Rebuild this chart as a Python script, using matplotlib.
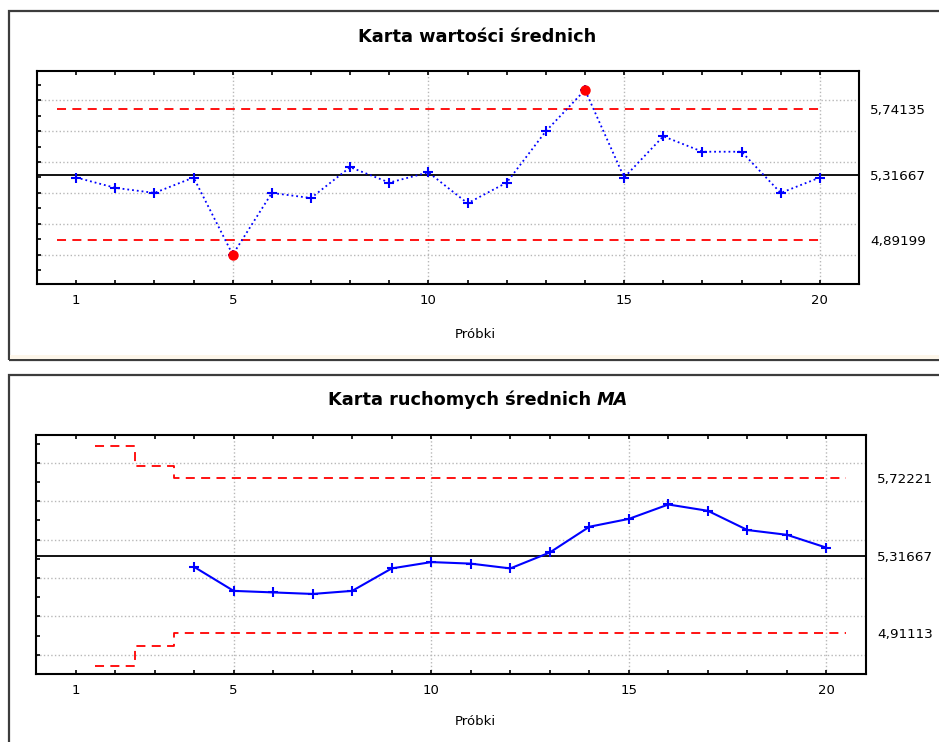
"""
Karty kontrolne: wartości średnich i ruchomych średnich MA.
"""

import numpy as np
import matplotlib.pyplot as plt
from matplotlib.patches import Rectangle
from matplotlib.ticker import MultipleLocator

# ── Data ──────────────────────────────────────────────────────────────────────
samples = np.arange(1, 21)
means = [5.300, 5.233, 5.200, 5.300, 4.800, 5.200, 5.167, 5.367, 5.267, 5.333,
         5.133, 5.267, 5.600, 5.867, 5.300, 5.567, 5.467, 5.467, 5.200, 5.300]
cl = 5.31667
ucl, lcl = 5.74135, 4.89199
top_labels = ["5,74135", "5,31667", "4,89199"]

ma_samples = np.arange(4, 21)
ma_values = [5.258, 5.133, 5.125, 5.117, 5.133, 5.250, 5.283, 5.275, 5.250,
             5.333, 5.467, 5.508, 5.583, 5.550, 5.450, 5.425, 5.358]
ma_lim_samples = np.arange(2, 21)
ma_ucl = [5.890, 5.785] + [5.72221] * 17
ma_lcl = [4.743, 4.848] + [4.91113] * 17
bot_labels = ["5,72221", "5,31667", "4,91113"]

# ── Style ─────────────────────────────────────────────────────────────────────
W, H = 939, 742
BLUE = "#0000ff"
RED = "#ff0000"
GRID = "#b8b8b8"
plt.rcParams["font.family"] = ["DejaVu Sans"]

fig = plt.figure(figsize=(W / 100, H / 100), dpi=100)
fig.patch.set_facecolor("white")


def px_axes(l, t, r, b):
    return fig.add_axes([l / W, 1 - b / H, (r - l) / W, (b - t) / H])


def frame(l, t, r, b):
    fig.patches.append(Rectangle((l / W, 1 - b / H), (r - l) / W, (b - t) / H,
                                 transform=fig.transFigure, fill=False,
                                 edgecolor="#3c3c3c", linewidth=1.6, zorder=0))


def style_axes(ax, ylim, lim_vals, lim_labels, xlab_pos):
    ax.set_xlim(0, 21)
    ax.set_ylim(*ylim)
    ax.set_xticks(samples)
    ax.set_xticklabels([str(s) if s in (1, 5, 10, 15, 20) else "" for s in samples])
    ax.yaxis.set_major_locator(MultipleLocator(0.2))
    ax.yaxis.set_minor_locator(MultipleLocator(0.1))
    ax.tick_params(axis="x", direction="in", top=True, length=3, width=1.2,
                   labelsize=9.5, pad=7)
    ax.tick_params(axis="y", which="both", direction="in", left=True, right=True,
                   length=3, width=1.2, labelleft=False)
    ax.grid(axis="y", which="major", color=GRID, linestyle=":", linewidth=1)
    for xv in (5, 10, 15, 20):
        ax.axvline(xv, color=GRID, linestyle=":", linewidth=1, zorder=0)
    for sp in ax.spines.values():
        sp.set_linewidth(1.5)
    ax.set_xlabel("Próbki", fontsize=9.5)
    ax.xaxis.set_label_coords(*xlab_pos)

    twin = ax.twinx()
    twin.set_ylim(*ylim)
    twin.set_yticks(lim_vals)
    twin.set_yticklabels(lim_labels)
    twin.tick_params(axis="y", length=0, labelsize=9.7, pad=8)
    for sp in twin.spines.values():
        sp.set_visible(False)


# ── Top chart ─────────────────────────────────────────────────────────────────
frame(9, 11, 960, 360)
fig.patches.append(Rectangle((10 / W, 1 - 359 / H), 950 / W, 4 / H,
                             transform=fig.transFigure, color="#fdf6ea",
                             linewidth=0, zorder=0))
ax1 = px_axes(37, 71, 859, 284)
style_axes(ax1, (4.61, 5.99), [ucl, cl, lcl], top_labels, (0.533, -0.205))

ax1.axhline(cl, color="black", linewidth=1.3)
ax1.hlines([ucl, lcl], 0.5, 20, colors=RED, linestyles=(0, (5, 3.5)), linewidth=1.3)
ax1.plot(samples, means, color=BLUE, linestyle=":", linewidth=1.3,
         marker="+", markersize=6.5, markeredgewidth=1.5)
means_arr = np.array(means)
out = (means_arr > ucl) | (means_arr < lcl)
ax1.plot(samples[out], means_arr[out], "o", color=RED, markersize=6.5, zorder=5)

fig.text(477 / W, 1 - 37 / H, "Karta wartości średnich", ha="center", va="center",
         fontsize=12.8, fontweight="bold")

# ── Bottom chart ──────────────────────────────────────────────────────────────
frame(9, 375, 960, 760)
ax2 = px_axes(36, 435, 866, 674)
style_axes(ax2, (4.70, 5.945), [ma_ucl[-1], cl, ma_lcl[-1]], bot_labels,
           (0.529, -0.17))

ax2.axhline(cl, color="black", linewidth=1.3)
step_x = np.r_[ma_lim_samples - 0.5, ma_lim_samples[-1] + 0.5]
for lim in (ma_ucl, ma_lcl):
    ax2.plot(step_x, np.r_[lim, lim[-1]], drawstyle="steps-post", color=RED,
             linestyle=(0, (5, 3.5)), linewidth=1.3)
ax2.plot(ma_samples, ma_values, color=BLUE, linewidth=1.5,
         marker="+", markersize=6.5, markeredgewidth=1.5)

# title with bold-italic "MA"
t1 = fig.text(0, 1 - 400 / H, "Karta ruchomych średnich ", ha="left", va="center",
              fontsize=12.8, fontweight="bold")
t2 = fig.text(0, 1 - 400 / H, "MA", ha="left", va="center",
              fontsize=12.8, fontweight="bold", fontstyle="italic")
fig.canvas.draw()
r = fig.canvas.get_renderer()
w1 = t1.get_window_extent(r).width
w2 = t2.get_window_extent(r).width
x0 = 478 - (w1 + w2) / 2
t1.set_x(x0 / W)
t2.set_x((x0 + w1) / W)

fig.savefig("out.png", dpi=100)
